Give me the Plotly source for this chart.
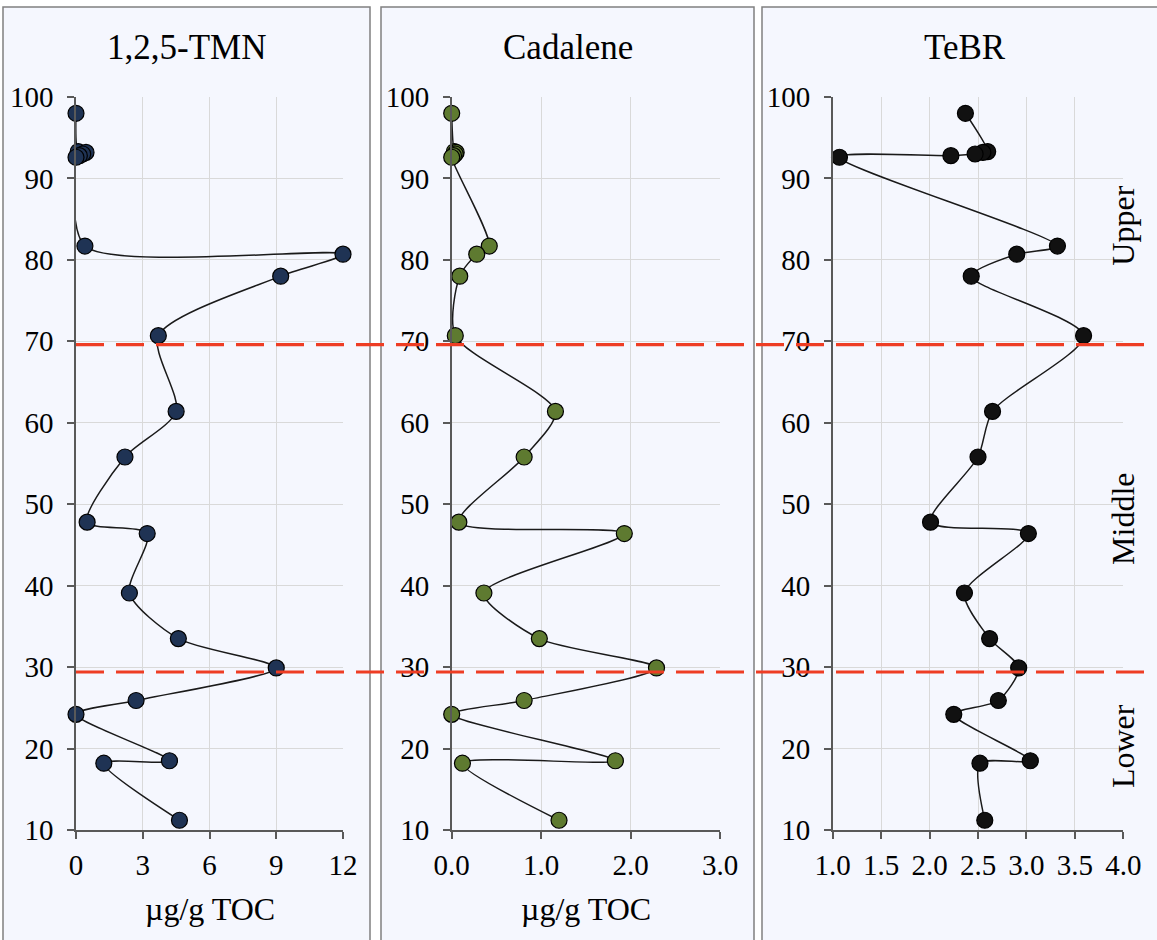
import plotly.graph_objects as go

# Sample depths (m) shared by all three profiles
depth_m = [98.0, 93.3, 93.2, 93.0, 92.8, 92.6, 81.7, 80.7, 78.0, 70.7, 61.4,
           55.8, 47.8, 46.4, 39.1, 33.5, 29.9, 25.9, 24.2, 18.5, 18.2, 11.2]

# 1,2,5-trimethylnaphthalene (µg/g TOC)
tmn_125 = [0.0, 0.1, 0.45, 0.3, 0.15, 0.0, 0.4, 12.0, 9.2, 3.7, 4.5,
           2.2, 0.5, 3.2, 2.4, 4.6, 9.0, 2.7, 0.0, 4.2, 1.25, 4.65]

# Cadalene (µg/g TOC)
cadalene = [0.0, 0.03, 0.05, 0.04, 0.02, 0.0, 0.42, 0.28, 0.09, 0.04, 1.16,
            0.81, 0.08, 1.93, 0.36, 0.98, 2.29, 0.81, 0.0, 1.83, 0.12, 1.2]

# Tetracyclic/bicyclic ratio
tebr = [2.37, 2.6, 2.55, 2.47, 2.22, 1.07, 3.32, 2.9, 2.43, 3.59, 2.65,
        2.5, 2.01, 3.02, 2.36, 2.62, 2.92, 2.71, 2.25, 3.04, 2.52, 2.57]

panel_titles = ["1,2,5-TMN", "Cadalene", "TeBR"]
x_ranges = [[0, 12], [0, 3], [1, 4]]
x_tickvals = [[0, 3, 6, 9, 12], [0, 1, 2, 3], [1, 1.5, 2, 2.5, 3, 3.5, 4]]
x_ticktext = [["0", "3", "6", "9", "12"],
              ["0.0", "1.0", "2.0", "3.0"],
              ["1.0", "1.5", "2.0", "2.5", "3.0", "3.5", "4.0"]]
y_ticks = [10, 20, 30, 40, 50, 60, 70, 80, 90, 100]
zone_boundaries = [69.6, 29.4]
zone_names = ["Upper", "Middle", "Lower"]
zone_centers = [84.2, 48.2, 20.3]

W, H = 1157, 940
FONT = "Liberation Serif, Times New Roman, serif"
marker_colors = ["#1F3354", "#5E7A30", "#111111"]

# pixel layout of the three panels
plot_px = [(76, 343), (451.7, 720), (832.7, 1123.3)]
box_px = [(3, 370), (381, 754), (762, 1190)]
top_px, bottom_px = 97, 830


def px(x):
    return x / W


def py(y):
    return 1 - y / H


fig = go.Figure()
series = [tmn_125, cadalene, tebr]

for i, vals in enumerate(series):
    n = "" if i == 0 else str(i + 1)
    fig.add_trace(go.Scatter(
        x=vals, y=depth_m, mode="lines+markers",
        xaxis="x" + n, yaxis="y" + n,
        line=dict(color="#1a1a1a", width=1.5, shape="spline", smoothing=0.75),
        marker=dict(size=16, color=marker_colors[i],
                    line=dict(color="#000000", width=1.2)),
        cliponaxis=False, showlegend=False, hoverinfo="x+y",
    ))

    axis_common = dict(
        showgrid=True, gridcolor="#D9D9D9", gridwidth=1.2,
        showline=True, linecolor="#595959", linewidth=1.5,
        ticks="outside", ticklen=7, tickcolor="#595959", tickwidth=1.5,
        tickfont=dict(family=FONT, size=29, color="#000000"),
        zeroline=False, automargin=False,
    )
    fig.update_layout(**{
        "xaxis" + n: dict(
            domain=[px(plot_px[i][0]), px(plot_px[i][1])],
            range=x_ranges[i], tickvals=x_tickvals[i], ticktext=x_ticktext[i],
            ticklabelstandoff=1,
            anchor="y" + n, **axis_common),
        "yaxis" + n: dict(
            domain=[py(bottom_px), py(top_px)],
            range=[10, 100], tickvals=y_ticks,
            ticklabelstandoff=8,
            anchor="x" + n, **axis_common),
    })

shapes = []
# panel frames
for (x0, x1) in box_px:
    shapes.append(dict(type="rect", xref="paper", yref="paper",
                       x0=px(x0), x1=px(x1), y0=-0.1, y1=py(7),
                       fillcolor="#F5F7FE", line=dict(color="#808080", width=1.5),
                       layer="below"))
# zone boundaries
for d in zone_boundaries:
    shapes.append(dict(type="line", xref="paper", yref="y",
                       x0=px(76), x1=px(1148), y0=d, y1=d,
                       line=dict(color="#EE3D24", width=3.2, dash="28px,12px"),
                       layer="above"))

annotations = []
for i, t in enumerate(panel_titles):
    cx = (box_px[i][0] + box_px[i][1]) / 2 if i < 2 else 965
    annotations.append(dict(text=t, xref="paper", yref="paper",
                            x=px(cx), y=py(47), xanchor="center", yanchor="middle",
                            showarrow=False,
                            font=dict(family=FONT, size=35, color="#000000")))
for i in range(2):
    cx = (plot_px[i][0] + plot_px[i][1]) / 2
    annotations.append(dict(text="µg/g TOC", xref="paper", yref="paper",
                            x=px(cx), y=py(909), xanchor="center", yanchor="middle",
                            showarrow=False,
                            font=dict(family=FONT, size=32, color="#000000")))
for name, c in zip(zone_names, zone_centers):
    annotations.append(dict(text=name, xref="paper", yref="y3",
                            x=px(1123), y=c, xanchor="center", yanchor="middle",
                            textangle=-90, showarrow=False,
                            font=dict(family=FONT, size=32, color="#000000")))

fig.update_layout(
    width=W, height=H,
    margin=dict(l=0, r=0, t=0, b=0, autoexpand=False),
    paper_bgcolor="#FFFFFF",
    plot_bgcolor="rgba(0,0,0,0)",
    shapes=shapes, annotations=annotations,
    showlegend=False,
)

fig.write_html("out.html")
